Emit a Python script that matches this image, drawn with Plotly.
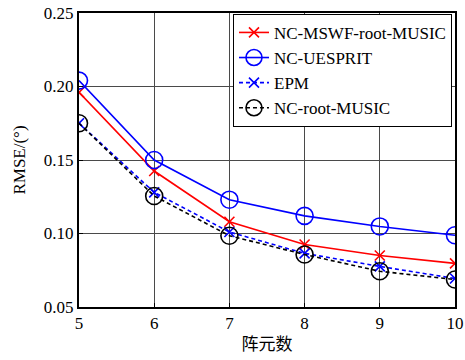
import plotly.graph_objects as go

elements = [5, 6, 7, 8, 9, 10]
mswf = [0.196, 0.1425, 0.108, 0.0925, 0.085, 0.0797]
uesprit = [0.204, 0.150, 0.123, 0.112, 0.1048, 0.0988]
epm = [0.175, 0.128, 0.101, 0.0865, 0.0776, 0.0694]
rootmusic = [0.175, 0.1255, 0.0985, 0.0857, 0.0743, 0.0687]
yticks = [0.05, 0.10, 0.15, 0.20, 0.25]
ytick_labels = ["0.05", "0.10", "0.15", "0.20", "0.25"]

serif = "Liberation Serif"

fig = go.Figure()
fig.add_trace(go.Scatter(x=elements, y=mswf, name="NC-MSWF-root-MUSIC", mode="lines+markers",
                         line=dict(color="#ff0000", width=1.6),
                         marker=dict(symbol="x-thin-open", size=10, color="#ff0000",
                                     line=dict(color="#ff0000", width=1.6))))
fig.add_trace(go.Scatter(x=elements, y=uesprit, name="NC-UESPRIT", mode="lines+markers",
                         line=dict(color="#0000ff", width=1.6),
                         marker=dict(symbol="circle-open", size=17, color="#0000ff",
                                     line=dict(color="#0000ff", width=1.6))))
fig.add_trace(go.Scatter(x=elements, y=epm, name="EPM", mode="lines+markers",
                         line=dict(color="#0000ff", width=1.6, dash="4px,3px"),
                         marker=dict(symbol="x-thin-open", size=10, color="#0000ff",
                                     line=dict(color="#0000ff", width=1.6))))
fig.add_trace(go.Scatter(x=elements, y=rootmusic, name="NC-root-MUSIC", mode="lines+markers",
                         line=dict(color="#000000", width=1.6, dash="4px,3px"),
                         marker=dict(symbol="circle-open", size=17, color="#000000",
                                     line=dict(color="#000000", width=1.6))))

fig.update_layout(
    width=465, height=360,
    margin=dict(l=79, r=10, t=13, b=53),
    paper_bgcolor="white", plot_bgcolor="white",
    font=dict(family=serif, size=17, color="#000000"),
    showlegend=True,
    legend=dict(x=0.992, y=0.997, xanchor="right", yanchor="top",
                bgcolor="white", bordercolor="#000000", borderwidth=1,
                font=dict(family=serif, size=17), tracegroupgap=0,
                itemwidth=30),
)
fig.update_xaxes(range=[5, 10], tickvals=elements, ticktext=[str(v) for v in elements],
                 automargin=False,
                 showgrid=True, gridcolor="#4a4a4a", gridwidth=1,
                 showline=True, linecolor="#000000", linewidth=2, mirror=True,
                 ticks="inside", ticklen=4, tickcolor="#000000",
                 zeroline=False,
                 title=dict(text="阵元数", font=dict(family="Noto Sans CJK SC", size=17), standoff=6),
                 tickfont=dict(family=serif, size=17))
fig.update_yaxes(range=[0.05, 0.25], tickvals=yticks, ticktext=ytick_labels,
                 automargin=False,
                 showgrid=True, gridcolor="#4a4a4a", gridwidth=1,
                 showline=True, linecolor="#000000", linewidth=2, mirror=True,
                 ticks="inside", ticklen=4, tickcolor="#000000",
                 zeroline=False,
                 title=dict(text="RMSE/(°)", font=dict(family=serif, size=17), standoff=14),
                 tickfont=dict(family=serif, size=17))

fig.write_html("out.html")
